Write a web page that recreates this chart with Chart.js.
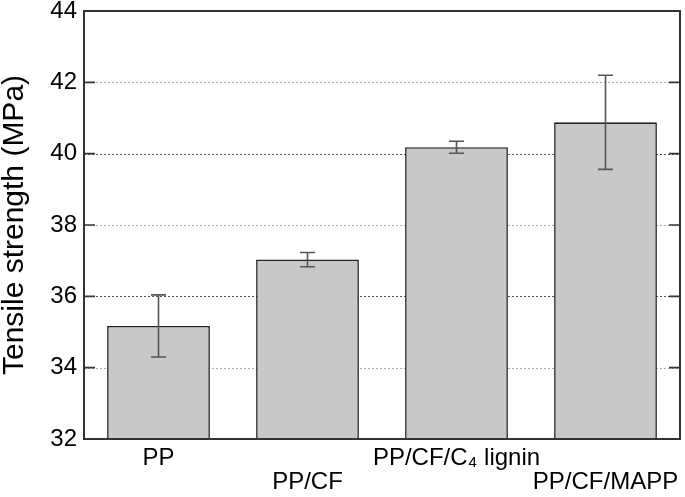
<!DOCTYPE html>
<html>
<head>
<meta charset="utf-8">
<script src="https://cdn.jsdelivr.net/npm/chart.js@4"></script>
<style>
  html, body { margin: 0; padding: 0; background: #fff; }
  #wrap { width: 685px; height: 497px; }
</style>
</head>
<body>
<div id="wrap"><canvas id="c" width="685" height="497"></canvas></div>
<script>
const categories = ['PP', 'PP/CF', 'PP/CF/C\u2084 lignin', 'PP/CF/MAPP'];
const strength = [35.17, 37.03, 40.18, 40.88];
const strengthErr = [0.87, 0.20, 0.17, 1.32];
const yTickValues = [32, 34, 36, 38, 40, 42, 44];
const darkGridValues = [36, 40];

const FONT = '"Liberation Sans", Arial, Helvetica, sans-serif';

// staggered two-row category labels
const labels = categories.map((c, i) => (i % 2 === 0 ? [c, ''] : ['', c]));

const dottedGrid = {
  id: 'dottedGrid',
  beforeDatasetsDraw(chart) {
    const ctx = chart.ctx;
    const a = chart.chartArea;
    const y = chart.scales.y;
    ctx.save();
    ctx.lineWidth = 1;
    ctx.setLineDash([2, 2]);
    yTickValues.forEach(v => {
      if (v === 32 || v === 44) return;
      const py = Math.round(y.getPixelForValue(v)) + 0.5;
      ctx.strokeStyle = darkGridValues.includes(v) ? '#555' : '#aaa';
      ctx.beginPath();
      ctx.moveTo(a.left, py); ctx.lineTo(a.right, py);
      ctx.stroke();
    });
    ctx.restore();
  }
};

const errorBars = {
  id: 'errorBars',
  afterDatasetsDraw(chart) {
    const ctx = chart.ctx;
    const y = chart.scales.y;
    const meta = chart.getDatasetMeta(0);
    ctx.save();
    ctx.strokeStyle = '#555';
    ctx.lineWidth = 1.6;
    meta.data.forEach((el, i) => {
      const v = strength[i], e = strengthErr[i];
      const top = y.getPixelForValue(v + e);
      const bot = y.getPixelForValue(v - e);
      const cw = 7.5;
      ctx.beginPath();
      ctx.moveTo(el.x, top); ctx.lineTo(el.x, bot);
      ctx.moveTo(el.x - cw, top); ctx.lineTo(el.x + cw, top);
      ctx.moveTo(el.x - cw, bot); ctx.lineTo(el.x + cw, bot);
      ctx.stroke();
    });
    ctx.restore();
  }
};

const frame = {
  id: 'frame',
  afterDraw(chart) {
    const ctx = chart.ctx;
    const a = chart.chartArea;
    const y = chart.scales.y;
    ctx.save();
    ctx.strokeStyle = '#333';
    ctx.lineWidth = 2;
    ctx.beginPath();
    ctx.rect(a.left, a.top, a.right - a.left, a.bottom - a.top);
    ctx.stroke();
    ctx.lineWidth = 1.6;
    ctx.beginPath();
    yTickValues.forEach(v => {
      const py = y.getPixelForValue(v);
      ctx.moveTo(a.left, py); ctx.lineTo(a.left + 11, py);
      ctx.moveTo(a.right, py); ctx.lineTo(a.right - 11, py);
    });
    ctx.stroke();
    ctx.restore();
  }
};

new Chart(document.getElementById('c'), {
  type: 'bar',
  data: {
    labels: labels,
    datasets: [{
      data: strength,
      backgroundColor: '#c8c8c8',
      borderColor: '#222',
      borderWidth: 1.6,
      borderSkipped: false,
      categoryPercentage: 1.0,
      barPercentage: 0.69
    }]
  },
  options: {
    responsive: false,
    animation: false,
    devicePixelRatio: 1,
    layout: { padding: { top: 11, right: 5, left: 0, bottom: 0 } },
    plugins: { legend: { display: false }, tooltip: { enabled: false } },
    scales: {
      x: {
        grid: { display: false, drawTicks: false },
        border: { display: false },
        ticks: {
          color: '#000',
          padding: 7,
          maxRotation: 0,
          autoSkip: false,
          font: { family: FONT, size: 24, lineHeight: 1.0 }
        },
        afterFit(s) { s.height = 58; s.paddingLeft = 0; s.paddingRight = 0; }
      },
      y: {
        min: 32,
        max: 44,
        afterBuildTicks(s) { s.ticks = yTickValues.map(v => ({ value: v })); },
        grid: { display: false, drawTicks: false },
        border: { display: false },
        ticks: {
          color: '#000',
          padding: 7,
          font: { family: FONT, size: 24 }
        },
        title: {
          display: true,
          text: 'Tensile strength (MPa)',
          color: '#000',
          padding: 0,
          font: { family: FONT, size: 30, lineHeight: 1 }
        },
        afterFit(s) { s.width = 84; s.paddingTop = 0; s.paddingBottom = 0; }
      }
    }
  },
  plugins: [dottedGrid, errorBars, frame]
});
</script>
</body>
</html>
